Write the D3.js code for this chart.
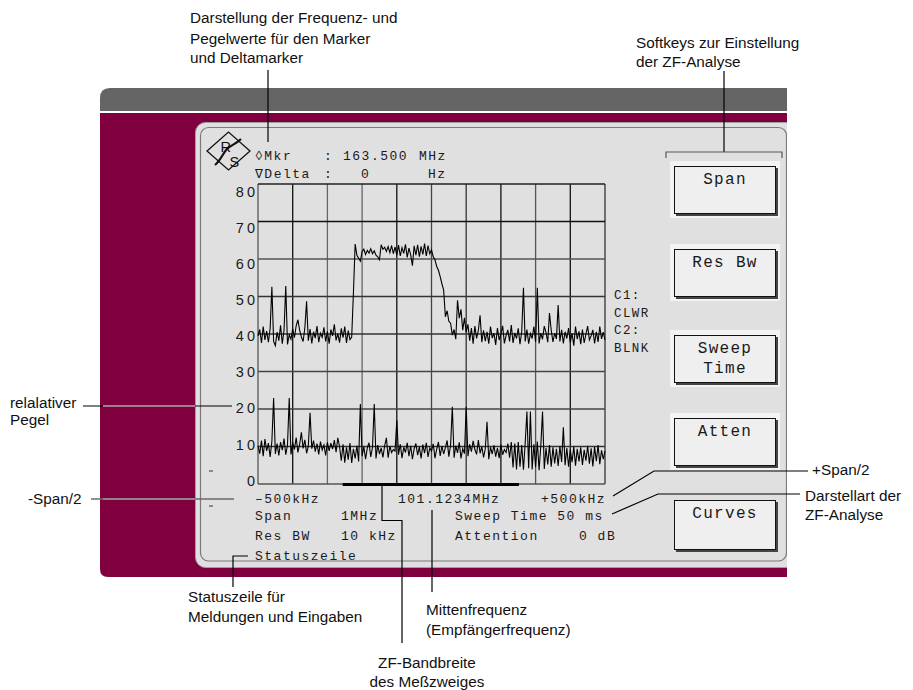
<!DOCTYPE html>
<html><head><meta charset="utf-8">
<script src="https://cdn.jsdelivr.net/npm/d3@7"></script>
<style>body{margin:0;background:#fff}svg{display:block}</style>
</head><body>
<svg id="chart" width="913" height="690"></svg>
<script>
// ---------- data ----------
const levelTicks = [0, 10, 20, 30, 40, 50, 60, 70, 80];
const levelTickLabels = ["0", "10", "20", "30", "40", "50", "60", "70", "80"];
const freqGridKHz = [-500, -400, -300, -200, -100, 0, 100, 200, 300, 400, 500];
const freqAxisLabels = ["\u2013500kHz", "101.1234MHz", "+500kHz"];
const sweepStartKHz = -500;
const sweepStepKHz = 5;
const resBwBarKHz = [-256, 252];
const softkeys = [["Span"], ["Res Bw"], ["Sweep", "Time"], ["Atten"], ["Curves"]];
const curveInfo = ["C1:", "CLWR", "C2:", "BLNK"];

// C1 trace (clear/write), dB
const traceC1 = [
 39.5,41.2,37.6,42.0,38.4,40.8,37.8,41.5,52.6,38.0,
 36.9,40.5,38.2,42.3,37.4,41.0,52.8,37.2,39.8,38.6,
 41.4,39.0,42.2,43.8,41.0,39.2,38.0,41.6,48.7,38.2,
 41.3,37.5,40.6,38.9,42.1,37.8,40.2,39.1,41.8,38.0,
 40.7,37.4,41.2,39.5,42.6,38.3,40.1,37.7,41.5,39.0,
 42.0,37.6,40.9,38.5,39.2,51.0,64.0,61.0,60.2,59.4,
 62.0,62.6,61.2,62.3,61.6,62.7,61.4,62.2,61.0,60.6,
 59.8,63.8,62.6,63.1,62.0,63.3,61.7,63.6,61.4,63.2,
 61.0,63.7,60.8,63.0,61.5,63.9,60.4,62.9,61.1,58.2,
 63.5,61.0,63.8,60.6,63.4,61.2,64.1,60.8,63.6,61.4,
 62.4,60.6,59.8,58.0,57.0,55.3,53.4,51.7,44.6,46.2,
 43.4,42.9,39.7,41.2,38.6,49.0,44.2,46.6,41.0,44.3,
 40.4,42.6,38.2,41.6,37.4,42.1,38.8,41.0,45.0,37.8,
 41.0,38.1,40.6,37.4,42.0,38.9,40.2,37.1,41.6,38.4,
 40.0,42.2,37.5,39.6,41.1,38.0,42.4,37.6,40.3,38.8,
 41.5,37.3,40.6,52.3,38.0,41.2,37.4,40.1,38.8,42.0,
 37.9,52.3,37.5,40.2,38.6,42.1,40.4,37.8,45.6,41.0,
 37.9,40.2,38.7,47.7,38.0,41.1,37.5,40.6,38.8,41.6,
 37.7,40.2,36.9,42.0,38.6,40.7,37.3,41.2,37.6,40.0,
 42.1,38.4,39.5,41.1,37.5,40.6,37.9,42.0,38.7,40.5,
 38.4
];

// C2 trace (blank), dB
const traceC2 = [
 10.2,8.1,11.6,7.4,12.0,8.8,10.9,7.2,11.4,22.9,
 8.0,10.8,7.6,11.2,9.0,12.1,7.8,10.4,22.9,7.9,
 11.0,9.2,12.4,8.4,10.6,13.8,9.5,11.8,8.2,10.1,
 19.0,9.4,11.6,8.6,10.8,7.9,11.3,9.1,10.4,7.6,
 11.1,8.8,10.9,9.3,11.7,8.5,12.3,10.0,6.2,10.6,
 5.7,9.8,6.5,10.9,5.6,9.4,6.8,10.2,6.0,21.3,
 7.4,10.0,6.6,9.6,11.0,7.2,9.8,21.3,6.8,10.4,
 8.0,9.6,7.1,10.2,12.3,7.0,10.1,8.4,9.2,8.8,
 17.0,7.8,10.6,6.9,9.8,8.4,11.0,7.4,10.2,6.6,
 9.4,10.8,7.7,9.9,6.8,10.5,8.2,11.0,7.2,9.6,
 8.8,10.7,6.9,9.3,11.2,7.5,10.1,8.0,9.7,11.6,
 7.3,10.4,20.6,7.0,10.2,8.3,11.1,6.8,9.4,8.1,
 20.6,7.4,10.6,8.6,11.5,9.2,7.9,11.7,8.2,10.0,
 7.1,9.4,16.6,6.6,9.8,8.0,10.3,7.3,9.6,6.9,
 10.5,7.8,9.2,8.4,10.8,7.0,11.2,4.4,10.8,3.9,
 11.2,4.6,10.4,3.8,11.0,19.3,4.2,19.3,3.9,10.6,
 4.5,11.3,3.7,10.2,19.3,4.0,9.6,5.2,10.4,4.6,
 9.8,5.5,9.4,4.8,10.1,5.9,15.1,5.0,9.6,4.6,
 9.2,5.8,10.0,4.9,9.4,6.0,9.8,5.1,9.1,6.2,
 10.2,5.4,9.5,4.7,9.9,6.1,10.4,5.3,9.0,6.6,
 8.8
];

// ---------- drawing ----------
const svg = d3.select("#chart");
const mono = "'Liberation Mono', 'DejaVu Sans Mono', monospace";
const sans = "'Liberation Sans', Arial, sans-serif";

const x = d3.scaleLinear().domain([-500, 500]).range([258, 605]);
const y = d3.scaleLinear().domain([0, 80]).range([484, 184]);
const yLab = d3.scaleLinear().domain([0, 80]).range([480.5, 191.5]);

svg.append("defs").append("clipPath").attr("id", "devClip")
  .append("rect").attr("x", 0).attr("y", 0).attr("width", 787).attr("height", 690);
const dev = svg.append("g").attr("clip-path", "url(#devClip)");

// device housing
dev.append("path").attr("d", "M100,111 V98 Q100,88 110,88 H800 V111 Z").attr("fill", "#656565");
dev.append("path").attr("d", "M100,113 H800 V577 H108 Q100,577 100,569 Z").attr("fill", "#80003f");
dev.append("rect").attr("x", 195.5).attr("y", 122.5).attr("width", 600).attr("height", 445)
  .attr("rx", 10).attr("fill", "#e0e0e0").attr("stroke", "#a0a0a0");
dev.append("rect").attr("x", 200.5).attr("y", 127.5).attr("width", 586).attr("height", 433.5)
  .attr("rx", 8).attr("fill", "none").attr("stroke", "#7a7a7a").attr("stroke-width", 1.2);

// logo
const logo = dev.append("g");
logo.append("path").attr("d", "M207,151 L228.5,132 L250,151 L228.5,170 Z")
  .attr("fill", "none").attr("stroke", "#111").attr("stroke-width", 1.3);
logo.append("path").attr("d", "M215,165 C221,160 223,153 227,149 C231,145 236,144 241,139")
  .attr("fill", "none").attr("stroke", "#111").attr("stroke-width", 2.2);
logo.append("text").attr("x", 220.5).attr("y", 152).text("R")
  .attr("font-family", sans).attr("font-size", 14.5).attr("fill", "#111");
logo.append("text").attr("x", 229.5).attr("y", 167).text("S")
  .attr("font-family", sans).attr("font-size", 14.5).attr("fill", "#111");

// marker readout
function mtext(g, t, px, py, size, ls) {
  return g.append("text").attr("x", px).attr("y", py).text(t)
    .attr("font-family", mono).attr("font-size", size || 13)
    .attr("letter-spacing", ls === undefined ? 1.5 : ls).attr("fill", "#1a1a1a")
    .style("white-space", "pre");
}
mtext(dev, "\u25CAMkr", 255, 159.5);
mtext(dev, ":", 324, 159.5);
mtext(dev, "163.500", 343, 159.5);
mtext(dev, "MHz", 419, 159.5);
mtext(dev, "\u2207Delta", 255, 178);
mtext(dev, ":", 324, 178);
mtext(dev, "0", 361, 178);
mtext(dev, "Hz", 428, 178);

// grid
const grid = dev.append("g");
const vShade = ["#555", "#111", "#666", "#666", "#111", "#444", "#333", "#111", "#555", "#111", "#333"];
const hShade = ["#555", "#333", "#444", "#444", "#333", "#333", "#555", "#111", "#222"];
grid.selectAll("line.v").data(freqGridKHz).join("line").attr("class", "v")
  .attr("x1", d => x(d)).attr("x2", d => x(d)).attr("y1", y(80)).attr("y2", y(0))
  .attr("stroke", (d, i) => vShade[i]).attr("stroke-width", 1.3);
grid.selectAll("line.h").data(levelTicks).join("line").attr("class", "h")
  .attr("x1", x(-500)).attr("x2", x(500)).attr("y1", d => y(d)).attr("y2", d => y(d))
  .attr("stroke", (d, i) => hShade[i]).attr("stroke-width", 1.3);

// y tick labels via axis
const yAxis = d3.axisLeft(yLab).tickValues(levelTicks)
  .tickFormat((d, i) => levelTickLabels[i]).tickSize(0).tickPadding(0);
const ya = dev.append("g").attr("transform", "translate(258,0)").call(yAxis);
ya.select(".domain").remove();
ya.selectAll("text").attr("font-family", sans).attr("font-size", 14.5)
  .attr("letter-spacing", 3).attr("fill", "#1a1a1a");

// traces
const line = d3.line().x((d, i) => x(sweepStartKHz + i * sweepStepKHz)).y(d => y(d));
dev.append("path").datum(traceC1).attr("d", line).attr("fill", "none")
  .attr("stroke", "#000").attr("stroke-width", 1.1).attr("stroke-linejoin", "miter");
dev.append("path").datum(traceC2).attr("d", line).attr("fill", "none")
  .attr("stroke", "#000").attr("stroke-width", 1.1).attr("stroke-linejoin", "miter");

// resolution bandwidth bar
dev.append("line").attr("x1", x(resBwBarKHz[0])).attr("x2", x(resBwBarKHz[1]))
  .attr("y1", 484.5).attr("y2", 484.5).attr("stroke", "#000").attr("stroke-width", 3);

// small dashes left
dev.append("line").attr("x1", 209).attr("x2", 213).attr("y1", 471).attr("y2", 471).attr("stroke", "#333");
dev.append("line").attr("x1", 209).attr("x2", 213).attr("y1", 506).attr("y2", 506).attr("stroke", "#333");

// frequency labels and settings
mtext(dev, freqAxisLabels[0], 255, 503);
mtext(dev, freqAxisLabels[1], 398, 503);
mtext(dev, freqAxisLabels[2], 541, 503);
mtext(dev, "Span", 255, 520);
mtext(dev, "1MHz", 341, 520);
mtext(dev, "Sweep Time 50 ms", 455, 520);
mtext(dev, "Res BW", 255, 540);
mtext(dev, "10 kHz", 341, 540);
mtext(dev, "Attention", 455, 540);
mtext(dev, "0 dB", 579, 540);
mtext(dev, "Statuszeile", 255, 560);

// curve info
const ciY = [299, 317, 334, 352];
curveInfo.forEach((t, i) => mtext(dev, t, 614, ciY[i], 12.5, 1.4));

// softkeys
const keyTops = [166, 249, 335, 418, 500];
const keyH = [48, 48, 48, 48, 50];
softkeys.forEach((lines, i) => {
  const g = dev.append("g");
  const top = keyTops[i], h = keyH[i];
  if (i < 4) g.append("rect").attr("x", 670).attr("y", top - 5).attr("width", 110).attr("height", h + 9).attr("fill", "#f3f3f3");
  g.append("rect").attr("x", 676).attr("y", top + 2).attr("width", 102).attr("height", h).attr("fill", "#444");
  g.append("rect").attr("x", 674.5).attr("y", top + 0.5).attr("width", 101).attr("height", h - 1)
    .attr("fill", "#efefef").attr("stroke", "#111").attr("stroke-width", 1);
  lines.forEach((t, j) => {
    g.append("text").attr("x", 725).attr("y", top + 17.5 + j * 20.5).text(t)
      .attr("text-anchor", "middle").attr("font-family", mono).attr("font-size", 16)
      .attr("letter-spacing", 1.3).style("white-space", "pre").attr("fill", "#1a1a1a");
  });
});

// ---------- annotations ----------
const ann = svg.append("g");
function atext(t, px, py, anchor) {
  return ann.append("text").attr("x", px).attr("y", py).text(t)
    .attr("font-family", sans).attr("font-size", 15.3).attr("fill", "#111")
    .attr("text-anchor", anchor || "start");
}
function aline(pts, color, w) {
  ann.append("path").attr("d", d3.line()(pts)).attr("fill", "none")
    .attr("stroke", color || "#000").attr("stroke-width", w || 1.2);
}
atext("Darstellung der Frequenz- und", 190, 23);
atext("Pegelwerte für den Marker", 190, 44);
atext("und Deltamarker", 190, 63);
aline([[268, 70], [268, 142]]);

atext("Softkeys zur Einstellung", 636, 48);
atext("der ZF-Analyse", 636, 67);
aline([[724, 71], [724, 152]]);
aline([[666, 158], [666, 152], [782, 152], [782, 158]], "#555");

atext("relalativer", 10, 408);
atext("Pegel", 10, 425);
aline([[83, 406], [232, 406]]);
aline([[103, 406], [195, 406]], "#fff");

atext("-Span/2", 28, 504);
aline([[91, 499], [234, 499]], "#6a6a6a", 1.5);
aline([[103, 499], [195, 499]], "#9a9a9a", 1.5);

atext("+Span/2", 812, 475);
aline([[613, 496], [654, 471], [808, 471]]);
atext("Darstellart der", 805, 501);
atext("ZF-Analyse", 805, 520);
aline([[612, 514], [658, 494], [800, 494]]);

atext("Statuszeile für", 188, 602);
atext("Meldungen und Eingaben", 188, 622);
aline([[248, 556], [233, 556], [233, 587]]);

atext("Mittenfrequenz", 426, 615);
atext("(Empfängerfrequenz)", 426, 635);
aline([[432, 510], [432, 592]]);

atext("ZF-Bandbreite", 427, 668, "middle");
atext("des Meßzweiges", 427, 687, "middle");
aline([[382, 486], [382, 520.5], [402, 520.5], [402, 643]]);
</script>
</body></html>
